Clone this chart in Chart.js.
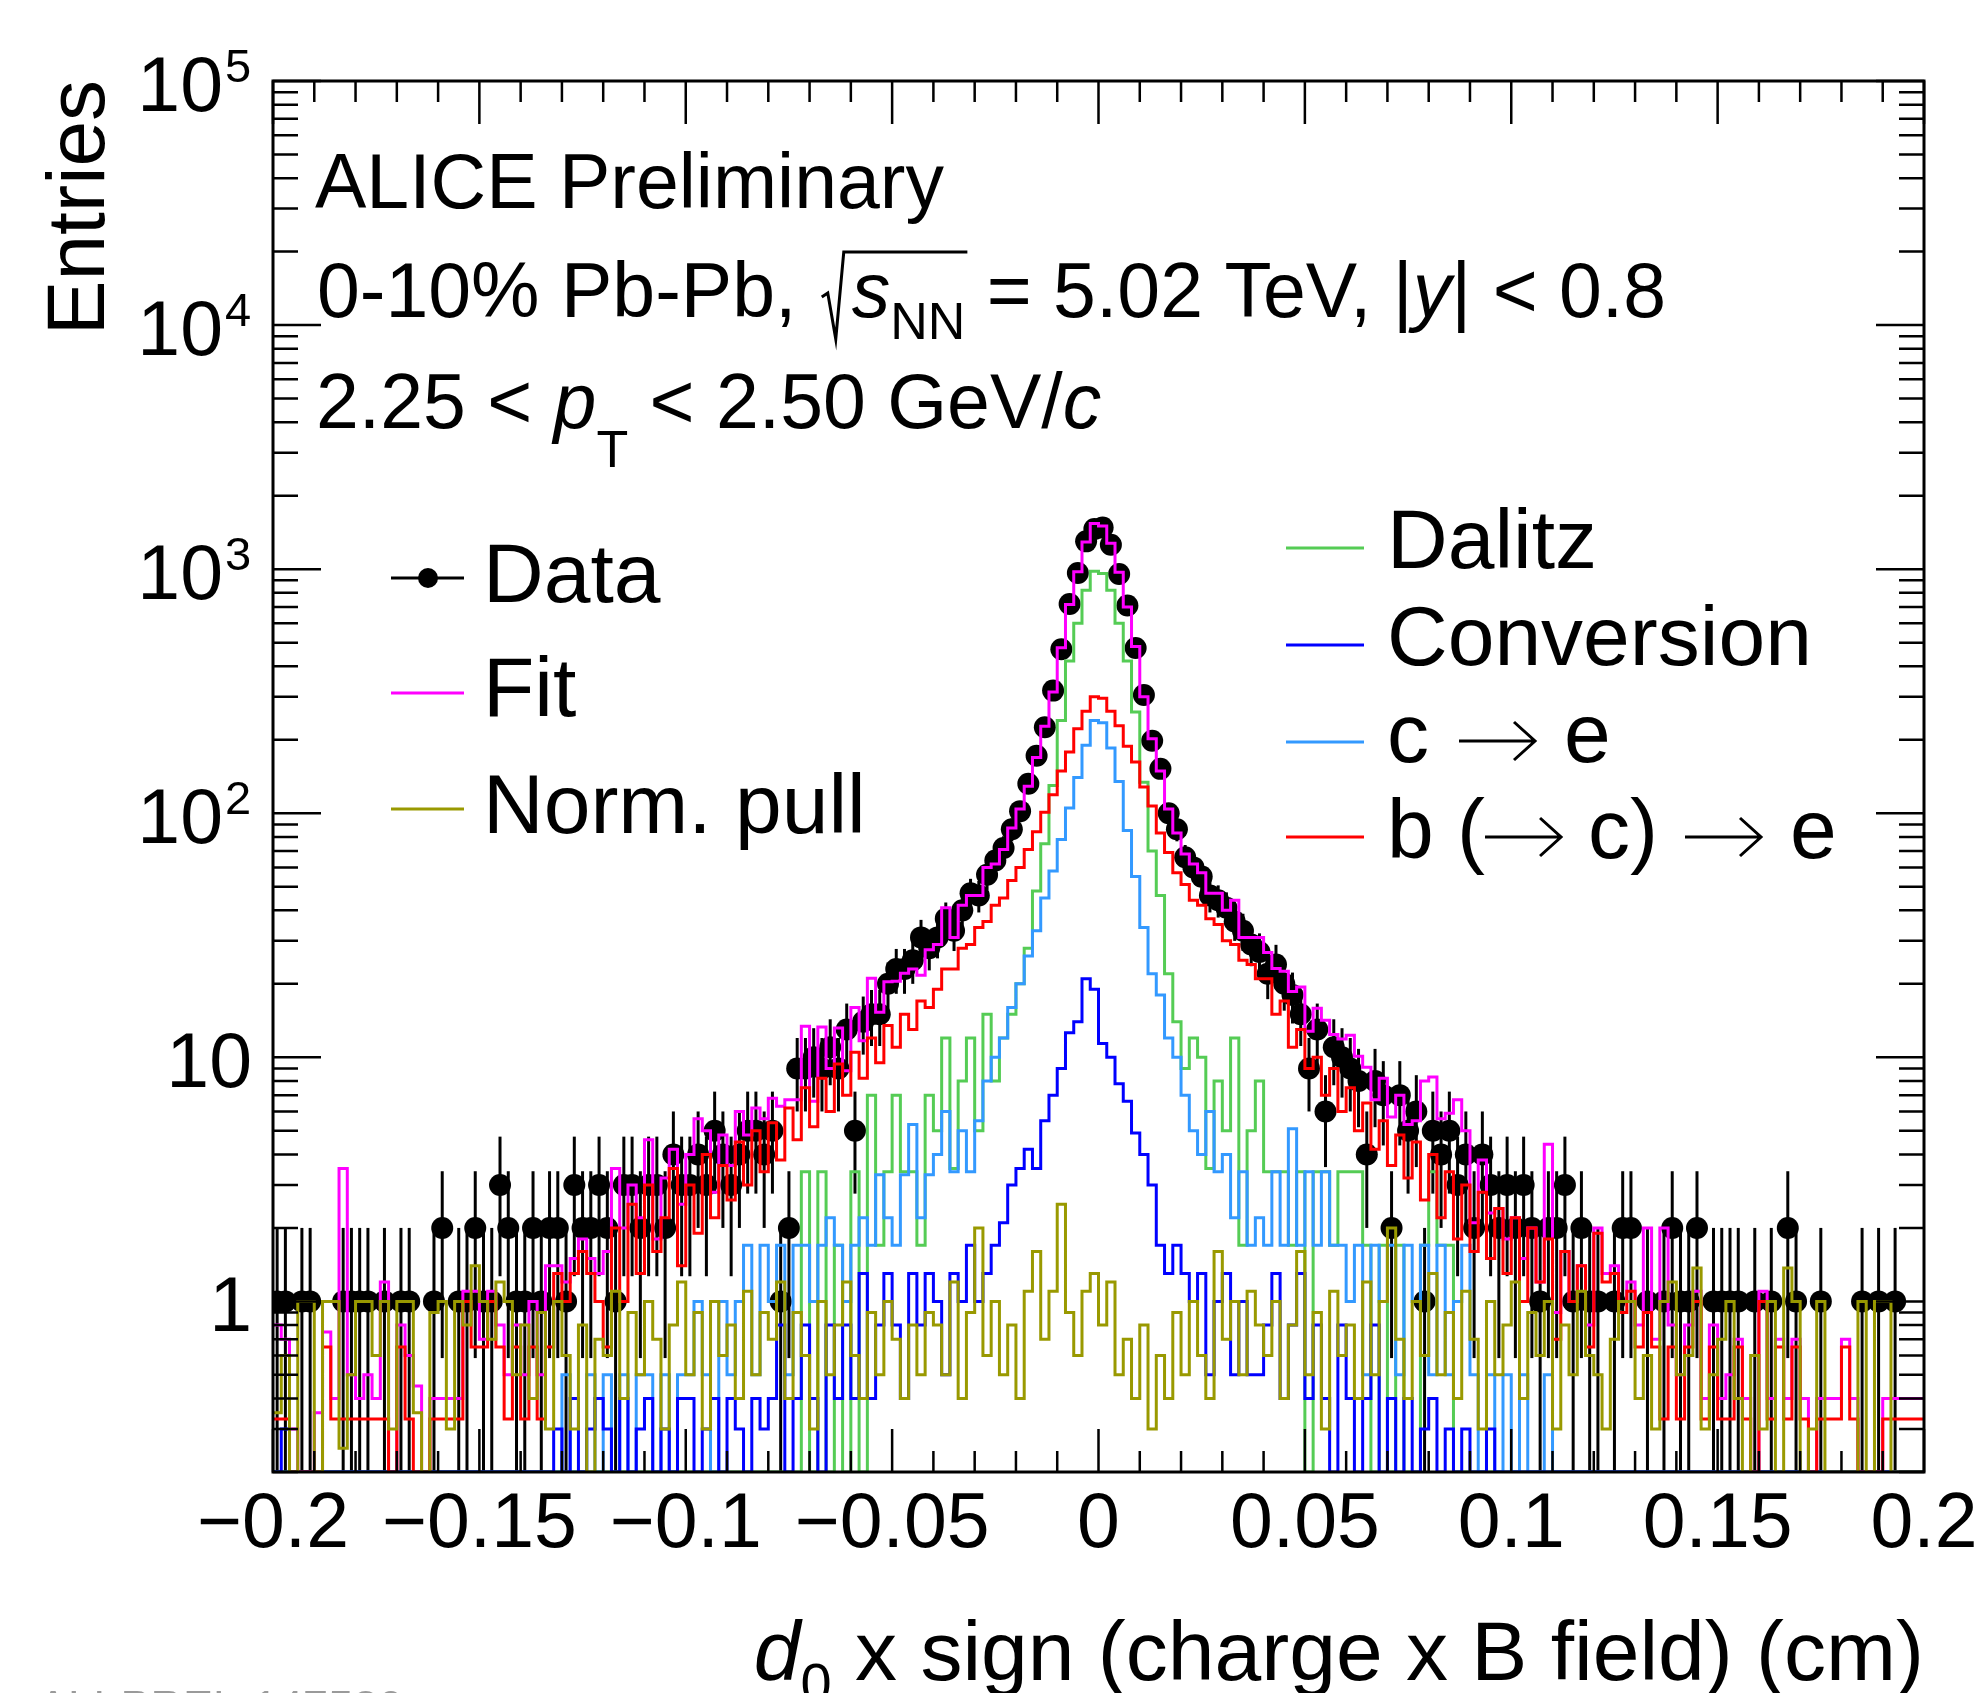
<!DOCTYPE html>
<html>
<head>
<meta charset="utf-8">
<title>d0 distribution - ALICE Preliminary</title>
<script src="https://cdn.jsdelivr.net/npm/chart.js@4.4.1/dist/chart.umd.min.js"></script>
<style>
  html, body { margin: 0; padding: 0; background: #ffffff; }
  #wrap { width: 1979px; height: 1693px; }
</style>
</head>
<body>
<div id="wrap"><canvas id="d0Chart" width="1979" height="1693"></canvas></div>
<script>
// binning of all histograms: 200 bins from -0.2 to 0.2 cm
const xLow = -0.2;
const binWidth = 0.002;

// Data (entries per bin)
const dataCounts = [
  1,1,0,1,1,0,0,0,1,1,
  1,1,0,1,0,1,1,0,0,1,
  2,0,1,1,2,1,1,3,2,1,
  1,2,1,2,2,1,3,2,2,3,
  2,1,3,3,2,3,3,2,4,3,
  3,4,3,5,4,3,4,5,5,4,
  5,1,2,9,9,10,9,11,9,13,
  5,14,15,15,20,23,23,25,31,28,
  31,37,33,40,47,46,56,64,72,86,
  102,132,172,225,318,470,720,965,1300,1460,
  1480,1260,955,710,475,305,198,152,100,86,
  66,60,55,46,44,41,36,33,29,27,
  22,24,20,18,15,9,13,6,11,10,
  9,8,4,8,7,2,7,5,6,1,
  5,4,5,3,4,2,4,3,2,3,
  2,3,2,1,2,2,3,1,2,1,
  1,0,1,2,2,0,1,0,1,2,
  1,1,2,0,1,1,1,1,0,1,
  0,1,0,2,1,0,0,1,0,0,
  0,0,1,0,1,0,1,0,0,0
];

// Fit (sum of templates)
const fitVals = [
  0.8,0.7,0.3,0.2,0.1,0.35,0.75,0.4,3.5,0.5,
  0.4,0.5,0.4,1.2,0.1,0.8,0.6,0.45,0.1,0.4,
  0.4,0.4,0.4,1.1,1.1,0.7,1.1,0.8,0.5,0.8,
  0.5,1.0,0.5,1.4,1.4,1.2,1.5,1.8,1.5,1.3,
  1.6,3.5,2.0,3.0,2.2,4.6,1.8,3.2,4.2,2.5,
  4.0,5.6,5.0,2.8,4.8,3.6,6.0,4.8,6.2,5.6,
  6.8,6.3,6.7,6.7,13.4,6.6,13.3,9.0,13.2,8.8,
  16.0,11.7,21.1,15.3,20.4,20.5,22.1,23.0,21.7,27.6,
  29,41,31,42,46,46,60,62,71,87,
  104,129,169,227,314,476,716,976,1293,1539,
  1502,1277,971,700,482,300,202,149,104,83,
  68,62,57,47,47,40,44,31,31,31,
  26.9,23.1,22.5,18.6,19.4,12.8,15.9,14.2,12.4,11.9,
  12.3,10.1,9.1,6.7,8.2,5.7,7.0,5.3,5.5,8.0,
  8.3,5.6,5.9,6.7,5.0,2.1,3.8,2.3,2.4,1.8,
  2.2,1.5,2.0,1.2,4.4,0.9,1.6,1.0,1.4,0.8,
  2.0,1.3,1.4,1.0,1.2,0.8,2.0,0.7,2.0,0.8,
  0.5,0.8,1.1,0.4,0.8,0.4,0.5,0.7,0.4,0.1,
  1.1,0.4,0.7,0.4,0.7,0.4,0.1,0.4,0.4,0.4,
  0.7,0.4,0.1,0.1,0.1,0.4,0.4,0.4,0.4,0.4
];

// Normalised pull
const pullVals = [
  0.35,0.6,0,1.0,1.0,0,1.0,1.0,0.25,0.5,
  1.0,1.0,0.6,1.0,0.3,1.0,1.0,0.35,0,0.9,
  1.0,0.3,1.0,0.8,1.4,1.0,0.7,1.2,1.0,0.5,
  0.8,0.4,0.9,0.3,1.0,0.6,0.3,0.8,0.2,0.7,
  0.6,1.1,0.4,0.9,0.5,1.0,0.7,0.3,0.8,1.2,
  0.5,0.9,0.3,1.0,0.6,0.8,0.4,1.1,0.5,0.9,
  0.7,1.2,0.4,0.9,0.6,0.3,1.0,0.5,0.8,1.2,
  0.6,0.4,0.9,0.5,1.0,0.7,0.4,0.8,0.5,0.9,
  0.8,0.5,1.2,0.4,0.9,2.0,0.6,1.0,0.5,0.8,
  0.4,1.1,1.6,0.7,1.1,2.5,0.9,0.6,1.1,1.3,
  0.8,1.2,0.5,0.7,0.4,0.8,0.3,0.6,0.4,0.9,
  0.5,1.0,0.6,0.4,1.6,0.7,1.0,0.5,1.1,0.8,
  0.6,1.0,0.4,0.8,1.6,0.5,0.9,0.3,1.1,0.6,
  0.8,0.4,1.2,0.5,1.0,2.0,0.7,0.4,1.0,0.6,
  1.3,0.5,0.9,0.4,1.1,0.7,0.3,1.0,0.5,0.8,
  1.2,0.4,0.9,0.6,1.0,0.3,0.8,0.5,1.1,0.6,
  0.5,0.3,0.7,1.0,1.0,0.4,0.6,0.3,1.0,1.2,
  0.5,0.6,1.37,0.3,0.5,0.7,1.0,0.4,0,0.6,
  0.3,1.0,0,1.37,1.0,0,0.3,1.0,0,0,
  0,0,1.0,0,1.0,1.0,0,0,0,0
];

// Dalitz template
const dalitzVals = [
  0,0,0,0,0,0,0,0,0,0,
  0,0,0,0,0,0,0,0,0,0,
  0,0,0,0,0,0,0,0,0,0,
  0,0,0,0,0,0,0,0,0,0,
  0,0,0,0,0,0,0,0,0,0,
  0,0,0,0,0,0,0,0,0,0,
  0,0,0,0,3.4,0,3.4,0,1.7,0,
  3.4,0,7,1.7,3.4,7,3.4,3.4,1.7,7,
  5,12,3.5,8,12,5,15,8,12,15,
  20,28,48,75,130,240,420,600,820,980,
  960,820,600,420,260,134,70,46,22,14,
  9,12,10,3.5,8,5,12,1.7,5,8,
  3.4,3.4,3.4,1.7,3.4,0,3.4,3.4,1.7,3.4,
  3.4,3.4,1.7,0,1.7,0,1.7,0,0,1.7,
  3.4,1.7,1.7,0,0,0,0,0,0,0,
  0,0,0,0,0,0,0,0,0,0,
  0,0,0,0,0,0,0,0,0,0,
  0,0,0,0,0,0,0,0,0,0,
  0,0,0,0,0,0,0,0,0,0,
  0,0,0,0,0,0,0,0,0,0
];

// Conversion template
const convVals = [
  0,0.3,0,0,0,0,0,0,0,0,
  0,0,0,0,0,0,0,0,0,0,
  0,0,0,0,0,0,0,0,0,0,
  0,0,0,0,0.3,0,0.4,0,0.3,0.4,
  0.3,0,0.4,0,0.3,0.4,0,0.3,0,0.4,
  0.4,0,0.3,0.4,0,0.4,0.3,0,0.4,0.3,
  0.4,0.8,0,0.4,0.8,0.4,0,0.8,0.4,0.8,
  0.4,1.3,0.4,0.8,1.3,0.8,0.4,1.3,0.8,1.3,
  1.0,0.5,1.3,1.0,1.7,1.0,1.3,1.7,2.1,3.0,
  3.5,4.2,3.5,5.5,7,9,12.6,14,21,19,
  11.4,10,7.8,6.6,4.9,4,3.0,1.7,1.3,1.7,
  1.3,1.0,1.3,0.5,1.0,1.3,0.5,1.0,0.5,0.5,
  0.8,1.3,0.4,0.8,1.3,0.4,0.8,0.4,0,0.8,
  0.4,0,0.4,0.8,0,0.4,0,0.4,0,0.3,
  0.4,0,0.3,0,0.3,0,0,0.3,0,0,
  0,0,0,0,0,0,0,0,0,0,
  0,0,0,0,0,0,0,0,0,0,
  0,0,0,0,0,0,0,0,0,0,
  0,0,0,0,0,0,0,0,0,0,
  0,0,0,0,0,0,0,0,0,0
];

// c -> e template
const charmVals = [
  0,0,0,0,0,0,0,0,0,0,
  0,0,0,0,0,0,0,0,0,0,
  0,0,0,0,0,0,0,0,0,0,
  0,0,0,0,0,0.5,0,0,0.5,0,
  0.5,0,0.5,0,0.5,0.5,0,0.5,0,0.5,
  0.5,1.0,0.5,0,1.0,0.5,1.0,1.7,0.5,1.7,
  1.0,1.7,0.5,1.7,1.7,1.0,1.7,2.2,1.7,1.0,
  1.7,2.2,1.7,3.3,2.2,1.7,3.3,5.3,2.2,3.3,
  4,6,3.4,5,3.4,5.5,8,10,12,16,
  20,26,33,45,58,78,105,140,190,240,
  235,185,135,85,55,34,22,18,12,10,
  7,5,4,6,3.4,4,2.2,3.4,1.7,2.2,
  1.7,3.4,1.7,5.1,1.7,3.4,1.7,3.4,1.7,1.7,
  1.0,1.7,0.5,1.7,1.0,1.7,0.5,1.7,1.0,1.7,
  0.5,1.7,0.5,1.0,1.7,0.5,0,0.5,0,0.5,
  0,0.5,0,0,0.5,0,0,0,0,0,
  0,0,0,0,0,0,0,0,0,0,
  0,0,0,0,0,0,0,0,0,0,
  0,0,0,0,0,0,0,0,0,0,
  0,0,0,0,0,0,0,0,0,0
];

// b (-> c) -> e template
const beautyVals = [
  0.33,0.33,0,0,0,0,0.65,0.33,0.33,0.33,
  0.33,0.33,0.33,0.33,0,0.65,0.33,0,0,0.33,
  0.33,0.33,0.33,1.0,0.65,0.65,1.0,0.65,0.33,0.65,
  0.33,0.65,0.33,0.65,1.3,1.0,1.3,1.6,1.3,1.0,
  0.65,2.0,1.0,2.5,1.3,3.0,1.6,2.2,3.5,1.4,
  3.0,1.9,4.0,2.2,3.6,2.6,4.5,3.0,5.0,3.4,
  5.4,3.8,6.2,4.6,7.5,5.2,8.2,6.0,9.4,7.0,
  10.5,8.2,12,9.5,13.5,11,15,13,17,16,
  19,23,23,28,29,34,36,42,45,53,
  60,71,84,101,119,149,178,222,262,300,
  296,262,228,188,162,128,107,83,69,57,
  51,44,42,37,35,30,29,25,24,21,
  21,15,17,11,13,9,10,7,9,6,
  7.5,5,6.5,4.2,5.5,3.6,4.8,3.2,4.5,2.6,
  4.0,2.2,3.4,1.8,3.0,1.6,2.8,1.5,2.4,1.3,
  2.2,1.0,2.0,1.2,1.8,0.7,1.6,1.0,1.4,0.65,
  1.9,1.2,1.3,0.9,1.1,0.65,0.9,0.65,0.33,0.65,
  0.33,0.65,1.0,0.33,0.65,0.33,0.33,0.65,0.33,0,
  1.0,0.33,0.65,0.33,0.65,0.33,0,0.33,0.33,0.33,
  0.65,0.33,0,0,0,0.33,0.33,0.33,0.33,0.33
];

// axis ticks and labels
const xTickValues = [-0.2, -0.15, -0.1, -0.05, 0, 0.05, 0.1, 0.15, 0.2];
const xTickLabels = ['\u22120.2', '\u22120.15', '\u22120.1', '\u22120.05', '0', '0.05', '0.1', '0.15', '0.2'];
const yDecades = [0, 1, 2, 3, 4, 5];
const yMin = 0.2;
const yMax = 1e5;

const FONT = '"Liberation Sans", Arial, Helvetica, sans-serif';
const colFit = '#ff00ff';
const colPull = '#999900';
const colDalitz = '#55cc55';
const colConv = '#0000ff';
const colCharm = '#3399ff';
const colBeauty = '#ff0000';

// step outline from bin contents (zero bins sit on the lower edge like ROOT does)
function stepPoints(vals) {
  const pts = vals.map((v, i) => ({ x: xLow + i * binWidth, y: Math.max(v, yMin) }));
  pts.push({ x: xLow + vals.length * binWidth, y: Math.max(vals[vals.length - 1], yMin) });
  return pts;
}

function histo(label, vals, color, order) {
  return {
    label: label,
    data: stepPoints(vals),
    borderColor: color,
    borderWidth: 3,
    pointRadius: 0,
    fill: false,
    stepped: true,
    order: order
  };
}

const dataPoints = [];
dataCounts.forEach((n, i) => {
  if (n > 0) dataPoints.push({ x: xLow + (i + 0.5) * binWidth, y: n });
});

// draws a run of text pieces; {gap} adds space, {arrow} draws a long ROOT-like arrow
function drawParts(ctx, x, y, parts) {
  let cx = x;
  parts.forEach(p => {
    if (p.gap) { cx += p.gap; return; }
    if (p.arrow) {
      const ay = y - 21;
      ctx.save();
      ctx.lineWidth = 3;
      ctx.strokeStyle = '#000';
      ctx.beginPath();
      ctx.moveTo(cx, ay); ctx.lineTo(cx + p.arrow, ay);
      ctx.moveTo(cx + p.arrow - 21, ay - 19); ctx.lineTo(cx + p.arrow, ay); ctx.lineTo(cx + p.arrow - 21, ay + 19);
      ctx.stroke();
      ctx.restore();
      cx += p.arrow;
      return;
    }
    ctx.font = (p.italic ? 'italic ' : '') + (p.size || 77) + 'px ' + FONT;
    ctx.fillText(p.t, cx, y + (p.dy || 0));
    cx += ctx.measureText(p.t).width;
  });
  return cx;
}

function partsWidth(ctx, parts) {
  let w = 0;
  parts.forEach(p => {
    if (p.gap) { w += p.gap; return; }
    if (p.arrow) { w += p.arrow; return; }
    ctx.font = (p.italic ? 'italic ' : '') + (p.size || 77) + 'px ' + FONT;
    w += ctx.measureText(p.t).width;
  });
  return w;
}

// error bars behind the markers
const errorBars = {
  id: 'errorBars',
  beforeDatasetsDraw(chart) {
    const ctx = chart.ctx, ca = chart.chartArea;
    const xs = chart.scales.x, ys = chart.scales.y;
    ctx.save();
    ctx.beginPath();
    ctx.rect(ca.left, ca.top, ca.right - ca.left, ca.bottom - ca.top);
    ctx.clip();
    ctx.strokeStyle = '#000';
    ctx.lineWidth = 3;
    dataCounts.forEach((n, i) => {
      if (n <= 0) return;
      const px = xs.getPixelForValue(xLow + (i + 0.5) * binWidth);
      const e = Math.sqrt(n);
      const lo = n - e;
      const pLo = lo > yMin ? ys.getPixelForValue(lo) : ca.bottom;
      const pHi = ys.getPixelForValue(n + e);
      ctx.beginPath();
      ctx.moveTo(px, pLo);
      ctx.lineTo(px, pHi);
      ctx.stroke();
    });
    ctx.restore();
  }
};

// ROOT style frame, ticks, labels, texts and legends
const rootFrame = {
  id: 'rootFrame',
  afterDatasetsDraw(chart) {
    const ctx = chart.ctx, ca = chart.chartArea;
    const xs = chart.scales.x, ys = chart.scales.y;
    ctx.save();
    ctx.strokeStyle = '#000';
    ctx.fillStyle = '#000';

    // ticks
    ctx.lineWidth = 2.5;
    ctx.beginPath();
    for (let k = -20; k <= 20; k++) {
      const px = xs.getPixelForValue(k * 0.01);
      const len = (k % 5 === 0) ? 43 : 21;
      ctx.moveTo(px, ca.bottom); ctx.lineTo(px, ca.bottom - len);
      ctx.moveTo(px, ca.top); ctx.lineTo(px, ca.top + len);
    }
    for (let d = -1; d <= 5; d++) {
      for (let m = 1; m <= 9; m++) {
        const v = m * Math.pow(10, d);
        if (v < yMin - 1e-9 || v > yMax + 1e-6) continue;
        const py = ys.getPixelForValue(v);
        const len = (m === 1) ? 48 : 25;
        ctx.moveTo(ca.left, py); ctx.lineTo(ca.left + len, py);
        ctx.moveTo(ca.right, py); ctx.lineTo(ca.right - len, py);
      }
    }
    ctx.stroke();

    // frame
    ctx.lineWidth = 3;
    ctx.strokeRect(ca.left, ca.top, ca.right - ca.left, ca.bottom - ca.top);

    // x tick labels
    ctx.textBaseline = 'alphabetic';
    ctx.textAlign = 'center';
    ctx.font = '77px ' + FONT;
    xTickValues.forEach((v, i) => {
      ctx.fillText(xTickLabels[i], xs.getPixelForValue(v), 1547);
    });

    // y tick labels
    yDecades.forEach(k => {
      const py = ys.getPixelForValue(Math.pow(10, k));
      if (k >= 2) {
        ctx.textAlign = 'right';
        ctx.font = '77px ' + FONT;
        ctx.fillText('10', 223, py + 30);
        ctx.textAlign = 'left';
        ctx.font = '47px ' + FONT;
        ctx.fillText(String(k), 225, py + 1);
      } else {
        ctx.textAlign = 'right';
        ctx.font = '77px ' + FONT;
        ctx.fillText(k === 1 ? '10' : '1', 252, py + 30);
      }
    });

    // y title
    ctx.save();
    ctx.translate(104, 80);
    ctx.rotate(-Math.PI / 2);
    ctx.textAlign = 'right';
    ctx.font = '82px ' + FONT;
    ctx.fillText('Entries', 0, 0);
    ctx.restore();

    // x title
    ctx.textAlign = 'left';
    const xTitle = [
      { t: 'd', size: 84, italic: true },
      { t: '0', size: 56, dy: 22 },
      { t: ' x sign (charge x B field) (cm)', size: 84 }
    ];
    drawParts(ctx, ca.right - partsWidth(ctx, xTitle), 1680, xTitle);

    // annotation
    drawParts(ctx, 315, 208, [{ t: 'ALICE Preliminary' }]);
    const lx = drawParts(ctx, 317, 317, [{ t: '0-10% Pb-Pb, ' }]);
    const sx = lx + 4;
    const afterS = drawParts(ctx, sx + 30, 317, [
      { t: 's', italic: true },
      { t: 'NN', size: 52, dy: 22 }
    ]);
    ctx.lineWidth = 3;
    ctx.beginPath();
    ctx.moveTo(sx, 297);
    ctx.lineTo(sx + 6, 293);
    ctx.lineTo(sx + 14, 339);
    ctx.lineTo(sx + 22, 252);
    ctx.lineTo(afterS + 2, 252);
    ctx.stroke();
    drawParts(ctx, afterS, 317, [
      { t: ' = 5.02 TeV, |' },
      { t: 'y', italic: true },
      { t: '| < 0.8' }
    ]);
    drawParts(ctx, 316, 428, [
      { t: '2.25 < ' },
      { t: 'p', italic: true },
      { t: 'T', size: 52, dy: 39 },
      { t: ' < 2.50 GeV/' },
      { t: 'c', italic: true }
    ]);

    // left legend
    ctx.lineWidth = 3;
    ctx.font = '84px ' + FONT;
    ctx.strokeStyle = '#000';
    ctx.beginPath(); ctx.moveTo(391, 578); ctx.lineTo(464, 578); ctx.stroke();
    ctx.beginPath(); ctx.arc(428, 578, 10, 0, Math.PI * 2); ctx.fill();
    ctx.fillText('Data', 483, 602);
    ctx.strokeStyle = colFit;
    ctx.beginPath(); ctx.moveTo(391, 693); ctx.lineTo(464, 693); ctx.stroke();
    ctx.fillText('Fit', 483, 716);
    ctx.strokeStyle = colPull;
    ctx.beginPath(); ctx.moveTo(391, 809); ctx.lineTo(464, 809); ctx.stroke();
    ctx.fillText('Norm. pull', 483, 833);

    // right legend
    const rightEntries = [
      [[{ t: 'Dalitz', size: 84 }], colDalitz, 548, 568],
      [[{ t: 'Conversion', size: 84 }], colConv, 645, 665],
      [[{ t: 'c', size: 84 }, { gap: 30 }, { arrow: 76 }, { gap: 29 }, { t: 'e', size: 84 }], colCharm, 742, 762],
      [[{ t: 'b (', size: 84 }, { arrow: 76 }, { gap: 27 }, { t: 'c)', size: 84 }, { gap: 27 },
        { arrow: 76 }, { gap: 29 }, { t: 'e', size: 84 }], colBeauty, 837, 858]
    ];
    rightEntries.forEach(en => {
      ctx.strokeStyle = en[1];
      ctx.lineWidth = 3;
      ctx.beginPath(); ctx.moveTo(1286, en[2]); ctx.lineTo(1364, en[2]); ctx.stroke();
      drawParts(ctx, 1387, en[3], en[0]);
    });

    // preliminary figure id (cut at the bottom edge)
    ctx.fillStyle = '#9a9a9a';
    ctx.font = '45px ' + FONT;
    ctx.fillText('ALI-PREL-147580', 38, 1722);

    ctx.restore();
  }
};

const ctx = document.getElementById('d0Chart').getContext('2d');
const d0Chart = new Chart(ctx, {
  type: 'line',
  data: {
    datasets: [
      histo('Norm. pull', pullVals, colPull, 0),
      histo('b (\u2192 c) \u2192 e', beautyVals, colBeauty, 1),
      histo('Conversion', convVals, colConv, 2),
      histo('c \u2192 e', charmVals, colCharm, 3),
      histo('Dalitz', dalitzVals, colDalitz, 4),
      histo('Fit', fitVals, colFit, 5),
      {
        label: 'Data',
        data: dataPoints,
        showLine: false,
        pointRadius: 11,
        pointHoverRadius: 11,
        pointBackgroundColor: '#000',
        pointBorderWidth: 0,
        borderColor: '#000',
        order: 6
      }
    ]
  },
  options: {
    responsive: false,
    animation: false,
    devicePixelRatio: 1,
    events: [],
    layout: { padding: { left: 0, right: 55, top: 81, bottom: 0 } },
    plugins: {
      legend: { display: false },
      tooltip: { enabled: false }
    },
    scales: {
      x: {
        type: 'linear',
        min: -0.2,
        max: 0.2,
        ticks: { display: false },
        grid: { display: false },
        border: { display: false },
        afterFit: function(scale) { scale.height = 221; }
      },
      y: {
        type: 'logarithmic',
        min: yMin,
        max: yMax,
        ticks: { display: false },
        grid: { display: false },
        border: { display: false },
        afterFit: function(scale) { scale.width = 273; }
      }
    }
  },
  plugins: [errorBars, rootFrame]
});
</script>
</body>
</html>
